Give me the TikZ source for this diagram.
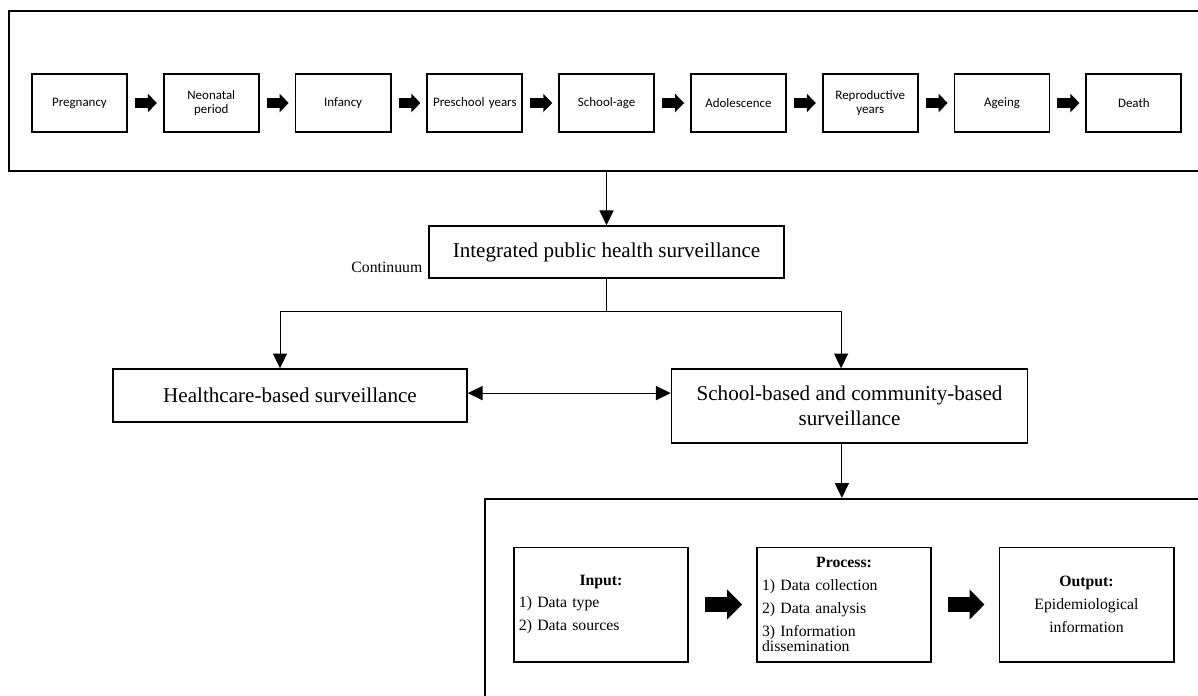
\documentclass[tikz,border=0pt]{standalone}
\usepackage{fontspec}
\setmainfont{Liberation Serif}
\newfontfamily\stagefont{Carlito}
\usetikzlibrary{arrows.meta}

\newcommand{\parthead}[1]{\makebox[4.1cm]{\textbf{#1}}}

\begin{document}
\begin{tikzpicture}[x=0.025cm, y=-0.025cm, node distance=3.294cm]
    \tikzstyle{stage} = [rectangle, draw, line width=1.3pt, minimum width=2.375cm, minimum height=1.45cm, text width=2.3cm, inner sep=0pt, align=center, font=\stagefont\fontsize{9.2}{9.6}\selectfont]
    \tikzstyle{frame} = [rectangle, draw, line width=1.5pt, inner sep=0pt]
    \tikzstyle{level} = [rectangle, draw, line width=1.1pt, inner sep=0pt, align=center, font=\fontsize{15}{17.5}\selectfont]
    \tikzstyle{part} = [rectangle, draw, line width=1.4pt, minimum width=4.35cm, minimum height=2.85cm, text width=4.1cm, inner xsep=0.125cm, inner ysep=0pt, align=left, font=\fontsize{11.2}{16.3}\selectfont]
    \tikzstyle{link} = [line width=0.7pt, -{Triangle[length=10.5pt, width=10pt]}]
    \tikzstyle{twoway} = [line width=0.7pt, {Triangle[length=10.5pt, width=10pt]}-{Triangle[length=10.5pt, width=10pt]}]
    \tikzstyle{fat} = [line width=7.8pt, -{Triangle[length=6.4pt, width=12.8pt]}, shorten <=0.175cm, shorten >=0.15cm]
    \tikzstyle{bigfat} = [line width=10.6pt, -{Triangle[length=10.6pt, width=20.6pt]}, shorten <=0.4cm, shorten >=0.35cm]

    \useasboundingbox (0,0) rectangle (1198,696);
    \clip (0,0) rectangle (1198,696);

    % life course
    \node [frame, minimum width=30.025cm, minimum height=4cm] (life) at (609.5,91) {};
    \node [stage] (preg) at (79.5,103) {Pregnancy};
    \node [stage, right of=preg] (neo) {Neonatal\\period};
    \node [stage, right of=neo] (inf) {Infancy};
    \node [stage, right of=inf] (pre) {Preschool years};
    \node [stage, right of=pre] (school-age) {School-age};
    \node [stage, right of=school-age] (adol) {Adolescence};
    \node [stage, right of=adol] (repro) {Reproductive\\years};
    \node [stage, right of=repro] (age) {Ageing};
    \node [stage, right of=age] (death) {Death};

    \draw [fat] (preg) -- (neo);
    \draw [fat] (neo) -- (inf);
    \draw [fat] (inf) -- (pre);
    \draw [fat] (pre) -- (school-age);
    \draw [fat] (school-age) -- (adol);
    \draw [fat] (adol) -- (repro);
    \draw [fat] (repro) -- (age);
    \draw [fat] (age) -- (death);

    % surveillance
    \node [level, minimum width=8.875cm, minimum height=1.3cm] (integ) at (606.5,252) {Integrated public health surveillance};
    \node [anchor=south east, inner sep=4pt, font=\fontsize{11.2}{13}\selectfont] (cont) at (integ.south west) {Continuum};
    \node [level, line width=1pt, minimum width=8.85cm, minimum height=1.325cm] (health) at (290,395.5) {Healthcare-based surveillance};
    \node [level, line width=1pt, minimum width=8.9cm, minimum height=1.85cm] (school) at (849.5,406) {School-based and community-based\\surveillance};
    \coordinate (split) at (606.5,311);

    \draw [link] (life.south -| integ.north) -- (integ.north);
    \draw [line width=0.7pt] (integ.south) -- (split);
    \draw [link] (split) -| ([xshift=-0.25cm]health.north);
    \draw [link] (split) -| ([xshift=-0.21cm]school.north);
    \draw [twoway] ([yshift=0.06cm]health.east) -- ([yshift=0.06cm]health.east -| school.west);

    % system
    \node [frame, minimum width=18.375cm, minimum height=5.525cm] (sys) at (852.5,609.5) {};
    \node [part] (input) at (601,604.5) {\parthead{Input:}\\1) Data type\\2) Data sources};
    \node [part, right of=input, node distance=6.075cm] (process) {\parthead{Process:}\\1) Data collection\\2) Data analysis\\3) Information\\[-5.7pt]dissemination};
    \node [part, right of=process, node distance=6.06cm, align=center] (output) {\textbf{Output:}\\Epidemiological\\information};

    \draw [link] ([xshift=-0.19cm]school.south) -- ([xshift=-0.19cm]school.south |- sys.north);
    \draw [bigfat] (input) -- (process);
    \draw [bigfat] (process) -- (output);
\end{tikzpicture}
\end{document}
